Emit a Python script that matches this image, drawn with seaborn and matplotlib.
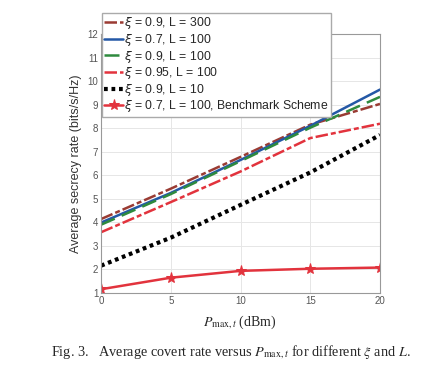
import numpy as np
import matplotlib
matplotlib.use("Agg")
import matplotlib.pyplot as plt
import seaborn as sns
import pandas as pd

# data
p_max = [0, 5, 10, 15, 20]
labels = [r"$\xi$ = 0.9, L = 300",
          r"$\xi$ = 0.7, L = 100",
          r"$\xi$ = 0.9, L = 100",
          r"$\xi$ = 0.95, L = 100",
          r"$\xi$ = 0.9, L = 10",
          r"$\xi$ = 0.7, L = 100, Benchmark Scheme"]
rate_09_300 = [4.14, 5.43, 6.78, 8.15, 9.03]
rate_07_100 = [3.99, 5.25, 6.65, 8.1, 9.64]
rate_09_100 = [3.9, 5.2, 6.6, 8.02, 9.33]
rate_095_100 = [3.58, 4.86, 6.16, 7.58, 8.19]
rate_09_10 = [2.16, 3.35, 4.74, 6.12, 7.71]
rate_bench = [1.16, 1.65, 1.94, 2.03, 2.08]

series = [rate_09_300, rate_07_100, rate_09_100, rate_095_100, rate_09_10, rate_bench]
colors = ["#9a3b33", "#2458a6", "#2e8a3e", "#e2333d", "#000000", "#e2333d"]
dashes = [(5, 1.2, 2, 1.2), (), (6, 3), (5, 1.2, 2, 1.2), (0.9, 0.9), ()]
widths = [1.8, 1.8, 1.8, 1.8, 3.0, 1.8]
markers = [None, None, None, None, None, "*"]

sns.set_style("whitegrid")
plt.rcParams["font.family"] = ["Liberation Sans", "DejaVu Sans"]
plt.rcParams["mathtext.fontset"] = "dejavusans"

fig = plt.figure(figsize=(4.46, 3.77), dpi=100)
ax = fig.add_axes([0.2265, 0.2228, 0.6255, 0.687])

for i in range(len(series)):
    df = pd.DataFrame({"P": p_max, "rate": series[i]})
    sns.lineplot(data=df, x="P", y="rate", ax=ax, color=colors[i], linewidth=widths[i],
                 marker=markers[i], markersize=8, markeredgecolor=colors[i],
                 label=labels[i])
    line = ax.lines[-1]
    if dashes[i]:
        line.set_dashes(dashes[i])

ax.set_xlim(0, 20)
ax.set_ylim(1, 12)
ax.set_xticks([0, 5, 10, 15, 20])
ax.set_yticks(range(1, 13))
ax.tick_params(labelsize=7, colors="#555555", length=0, pad=2)
ax.grid(color="#e6e6e6", linewidth=0.7)
for s in ax.spines.values():
    s.set_color("#999999")
    s.set_linewidth(0.8)
ax.set_ylabel("Average secrecy rate (bits/s/Hz)", fontsize=9, color="#333333", labelpad=4)
ax.set_xlabel("")

ax.legend(loc="upper left", bbox_to_anchor=(102 / 446, 1 - 13 / 377),
          bbox_transform=fig.transFigure, fontsize=8.8, frameon=True, fancybox=False,
          edgecolor="#aaaaaa", framealpha=1, borderpad=0.2, labelspacing=0.05,
          handlelength=1.5, handletextpad=0.1, borderaxespad=0)

fig.text(0.538, 1 - 322 / 377, r"$P_{\max,t}$ (dBm)", ha="center", va="center",
         fontsize=10, family="Liberation Serif", math_fontfamily="stix")
fig.text(0.518, 1 - 352 / 377,
         r"Fig. 3.   Average covert rate versus $P_{\max,t}$ for different $\xi$ and $L$.",
         ha="center", va="center", fontsize=10.3, family="Liberation Serif",
         math_fontfamily="stix")

fig.savefig("out.png", dpi=100)
